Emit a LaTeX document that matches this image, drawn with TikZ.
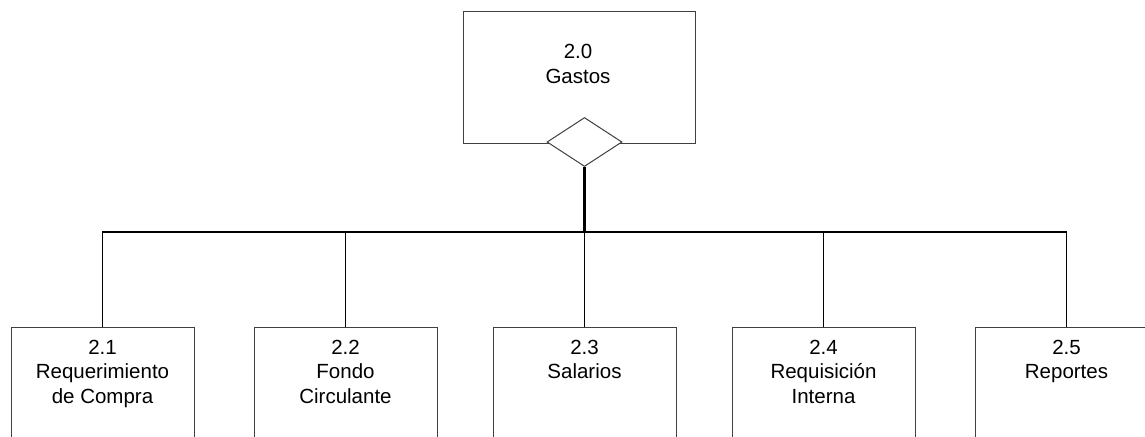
\documentclass[tikz,border=0pt]{standalone}
\usepackage{fontspec}
\setmainfont{Liberation Sans}
\usepackage{tikz}
\usetikzlibrary{shapes.geometric}

\begin{document}
\begin{tikzpicture}[
		x=0.5pt, y=-0.5pt,
		box/.style={
			draw=black!75,
			line width=0.5pt,
			fill=white,
			inner sep=0pt
		},
		txt/.style={
			align=center,
			inner sep=0pt,
			anchor=north,
			font=\fontsize{10.25}{12.2}\selectfont
		},
		gate/.style={
			diamond,
			draw=black!75,
			line width=0.5pt,
			fill=white,
			inner sep=0pt,
			minimum width=37.5pt,
			minimum height=24.5pt
		},
		bus/.style={
			line width=0.9pt,
			draw=black
		}
	]
	\clip (0,0) rectangle (1145,436);
	
	% Parent process
	\node[box, minimum width=116pt, minimum height=66pt] (gastos) at (579,77) {};
	\node[txt] (gastos-t) at (578,44) {2.0\\Gastos};
	\node[gate] (gate) at (584.5,142) {};
	
	% Child processes
	\foreach \i/\x/\lab in {1/102.5/{Requerimiento\\de Compra},
			2/345.5/{Fondo\\Circulante},
			3/584.5/{Salarios},
			4/823.5/{Requisición\\Interna},
			5/1066.5/{Reportes}}{
		\node[box, minimum width=91.5pt, minimum height=70pt] (p\i) at (\x,397.5) {};
		\node[txt] (p\i-t) at (\x,339.5) {2.\i\\\lab};
	}
	
	% Connectors
	\coordinate (bus) at (584.5,232);
	\draw[line width=1.5pt] (gate.south) -- (bus);
	\draw[bus] (p1.north) |- (bus) -| (p5.north);
	\foreach \i in {2,3,4}
		\draw[bus] (p\i.north) -- (p\i.north |- bus);
	
\end{tikzpicture}
\end{document}
